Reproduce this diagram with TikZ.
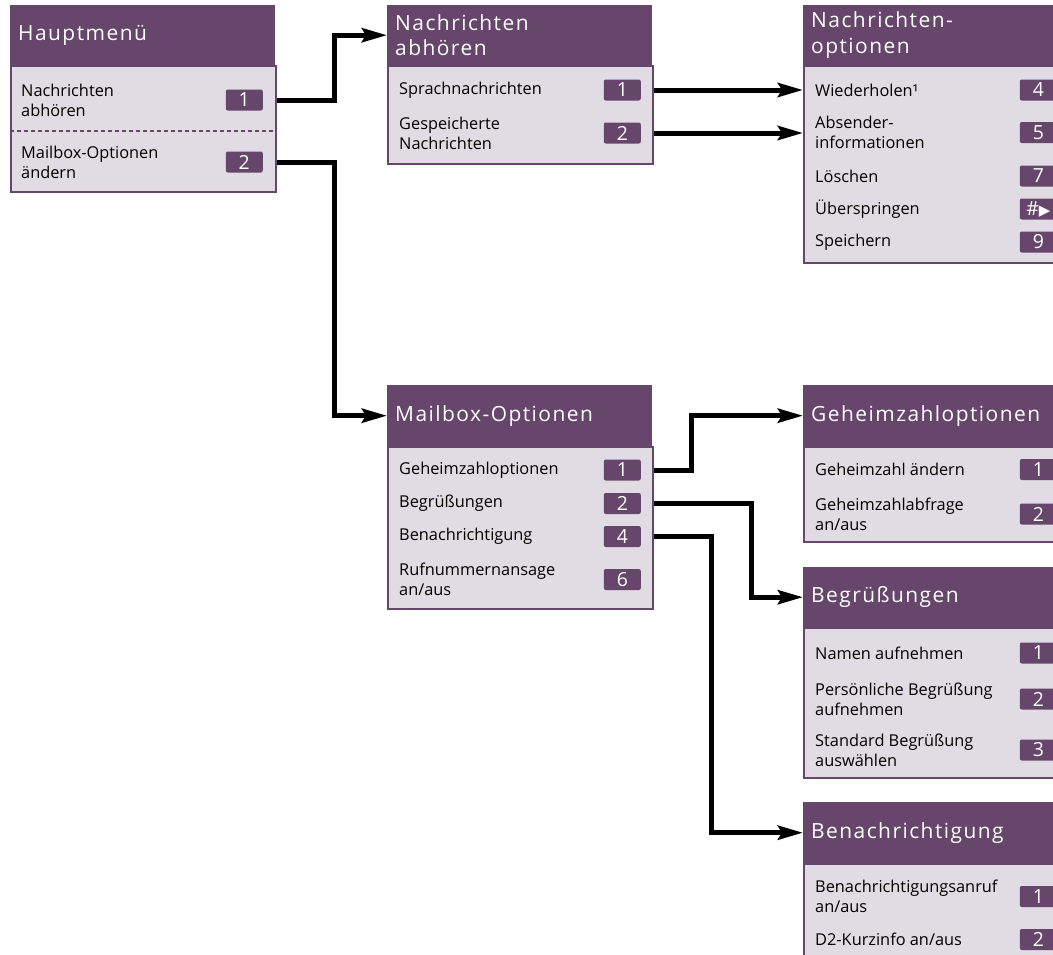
\documentclass[tikz,border=0pt]{standalone}
\usepackage{fontspec}
\setmainfont{Open Sans}
\newfontfamily\titlefont[LetterSpace=7]{Open Sans}
\newfontfamily\symbfont{DejaVu Sans}
\usetikzlibrary{arrows.meta}
\definecolor{menupurple}{HTML}{67466B}
\definecolor{menubg}{HTML}{E1DBE3}

\begin{document}
\begin{tikzpicture}[x=1bp, y=-1bp,
    menuhead/.style={fill=menupurple, text=white, anchor=north west,
      text width=249bp, inner xsep=8bp, inner ysep=0pt, align=left,
      font=\titlefont\fontsize{21}{25.5}\selectfont},
    menubody/.style={fill=menubg, draw=menupurple, line width=2bp,
      anchor=north west, minimum width=265bp, inner sep=0pt},
    entry/.style={anchor=west, inner sep=0pt, align=left,
      font=\fontsize{16.4}{20}\selectfont},
    key/.style={anchor=east, fill=menupurple, text=white, rounded corners=2bp,
      minimum width=37bp, minimum height=21bp, inner sep=0pt,
      font=\fontsize{19.5}{19.5}\selectfont},
    link/.style={line width=5bp, line join=miter,
      -{Stealth[length=25bp, width=14bp, inset=4bp]}}]
  \useasboundingbox (0,0) rectangle (1053,955);
  \clip (0,0) rectangle (1053,955);

  % Hauptmenue
  \node[menubody, minimum height=126bp] (hmBody) at (10,65) {};
  \node[menuhead, minimum height=60bp] (hmHead) at (10,5) {Hauptmenü};
  \draw[menupurple, line width=1.2bp, dash pattern=on 4bp off 3bp] (10,131) -- (274,131);
  \node[entry] (hm1) at (21,100) {Nachrichten\\abhören};
  \node[key] (hmKey1) at (263,100) {1};
  \node[entry] (hm2) at (21,162) {Mailbox-Optionen\\ändern};
  \node[key] (hmKey2) at (263,162) {2};

  % Nachrichten abhoeren
  \node[menubody, minimum height=98bp] (naBody) at (387,65) {};
  \node[menuhead, minimum height=60bp] (naHead) at (387,5) {Nachrichten\\abhören};
  \node[entry] (na1) at (399,90) {Sprachnachrichten};
  \node[key] (naKey1) at (641,90) {1};
  \node[entry] (na2) at (399,133) {Gespeicherte\\Nachrichten};
  \node[key] (naKey2) at (641,133) {2};

  % Nachrichtenoptionen
  \node[menubody, minimum height=197bp] (noBody) at (803,65) {};
  \node[menuhead, minimum height=60bp] (noHead) at (803,5) {Nachrichten-\\optionen};
  \node[entry] (no4) at (815,90) {Wiederholen¹};
  \node[key] (noKey4) at (1057,90) {4};
  \node[entry] (no5) at (815,132.5) {Absender-\\informationen};
  \node[key] (noKey5) at (1057,132.5) {5};
  \node[entry] (no7) at (815,176) {Löschen};
  \node[key] (noKey7) at (1057,176) {7};
  \node[entry] (noSkip) at (815,209) {Überspringen};
  \node[key] (noKeySkip) at (1057,209) {\#{\symbfont\fontsize{15}{15}\selectfont ▶}};
  \node[entry] (no9) at (815,242) {Speichern};
  \node[key] (noKey9) at (1057,242) {9};

  % Mailbox-Optionen
  \node[menubody, minimum height=162bp] (moBody) at (387,446) {};
  \node[menuhead, minimum height=61bp] (moHead) at (387,385) {Mailbox-Optionen};
  \node[entry] (mo1) at (399,470) {Geheimzahloptionen};
  \node[key] (moKey1) at (641,470) {1};
  \node[entry] (mo2) at (399,503.5) {Begrüßungen};
  \node[key] (moKey2) at (641,503.5) {2};
  \node[entry] (mo4) at (399,536.5) {Benachrichtigung};
  \node[key] (moKey4) at (641,536.5) {4};
  \node[entry] (mo6) at (399,579.5) {Rufnummernansage\\an/aus};
  \node[key] (moKey6) at (641,579.5) {6};

  % Geheimzahloptionen
  \node[menubody, minimum height=95bp] (goBody) at (803,446) {};
  \node[menuhead, minimum height=61bp] (goHead) at (803,385) {Geheimzahloptionen};
  \node[entry] (go1) at (815,469.5) {Geheimzahl ändern};
  \node[key] (goKey1) at (1057,469.5) {1};
  \node[entry] (go2) at (815,514) {Geheimzahlabfrage\\an/aus};
  \node[key] (goKey2) at (1057,514) {2};

  % Begruessungen
  \node[menubody, minimum height=150bp] (bgBody) at (803,627) {};
  \node[menuhead, minimum height=60bp] (bgHead) at (803,567) {Begrüßungen};
  \node[entry] (bg1) at (815,653) {Namen aufnehmen};
  \node[key] (bgKey1) at (1057,653) {1};
  \node[entry] (bg2) at (815,699) {Persönliche Begrüßung\\aufnehmen};
  \node[key] (bgKey2) at (1057,699) {2};
  \node[entry] (bg3) at (815,750) {Standard Begrüßung\\auswählen};
  \node[key] (bgKey3) at (1057,750) {3};

  % Benachrichtigung
  \node[menubody, minimum height=130bp] (bnBody) at (803,863) {};
  \node[menuhead, minimum height=61bp] (bnHead) at (803,802) {Benachrichtigung};
  \node[entry] (bn1) at (815,896.5) {Benachrichtigungsanruf\\an/aus};
  \node[key] (bnKey1) at (1057,896.5) {1};
  \node[entry] (bn2) at (815,939.5) {D2-Kurzinfo an/aus};
  \node[key] (bnKey2) at (1057,939.5) {2};

  \begin{scope}[link]
    \draw (hmKey1 -| hmBody.east) -- ++(57,0) |- (naHead.west);
    \draw (hmKey2 -| hmBody.east) -- ++(57,0) |- (moHead.west);
    \draw (naKey1 -| naBody.east) -- (naKey1 -| noBody.west);
    \draw (naKey2 -| naBody.east) -- (naKey2 -| noBody.west);
    \draw (moKey1 -| moBody.east) -- ++(37,0) |- (goHead.west);
    \draw (moKey2 -| moBody.east) -- ++(97,0) |- (bgHead.west);
    \draw (moKey4 -| moBody.east) -- ++(57,0) |- (bnHead.west);
  \end{scope}
\end{tikzpicture}
\end{document}
